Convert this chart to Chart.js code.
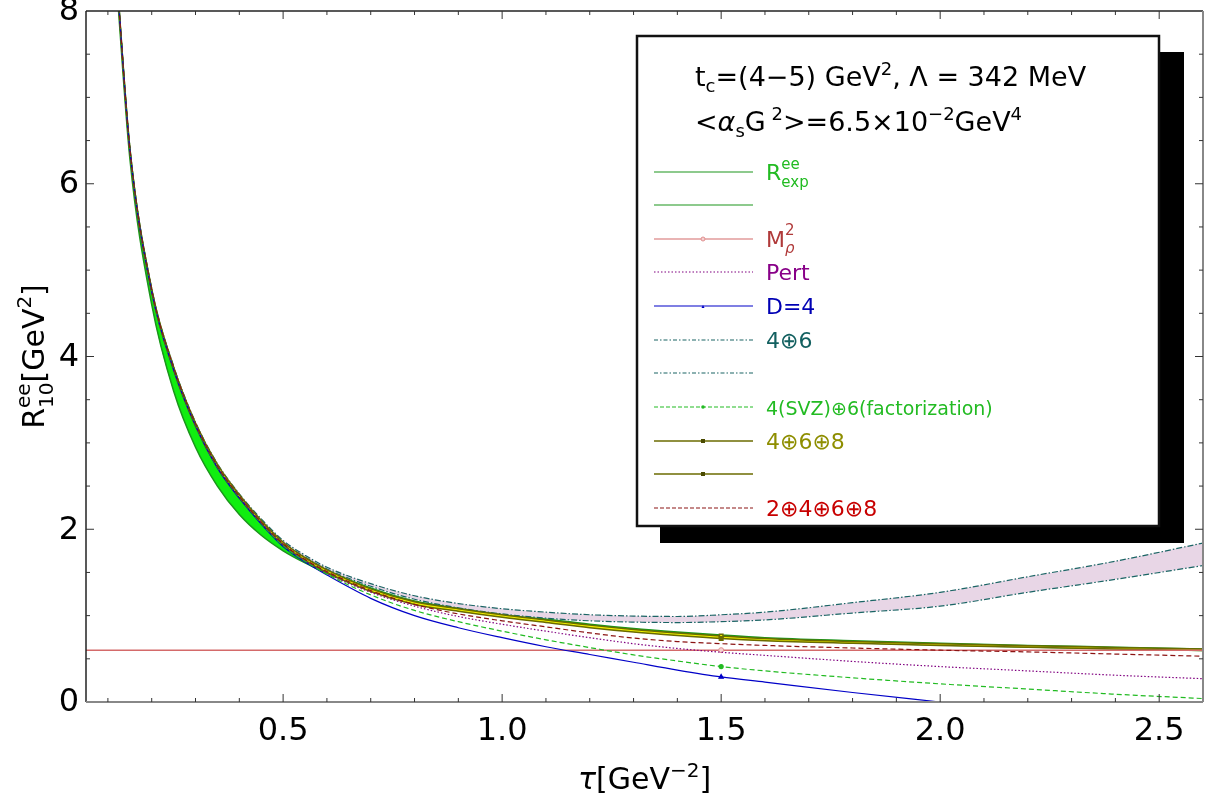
<!DOCTYPE html>
<html lang="en">
<head>
<meta charset="UTF-8" />
<title>R10 ee sum rule</title>
<style>
  body { margin: 0; background: #fff; }
  canvas { display: block; }
</style>
</head>
<body>
<canvas id="sumRule" width="1208" height="799"></canvas>

<script src="https://cdn.jsdelivr.net/npm/chart.js"></script>
<script>
  const tau = [0.12, 0.15, 0.2, 0.25, 0.3, 0.35, 0.4, 0.45, 0.5, 0.55, 0.6, 0.7, 0.8, 0.9,
               1.0, 1.1, 1.2, 1.3, 1.4, 1.5, 1.6, 1.8, 2.0, 2.2, 2.4, 2.6];

  const rexpUpper = [8.40, 6.42, 4.77, 3.87, 3.22, 2.74, 2.39, 2.10, 1.85, 1.67, 1.53, 1.32, 1.17, 1.09,
                     1.02, 0.96, 0.90, 0.85, 0.81, 0.775, 0.745, 0.71, 0.68, 0.655, 0.635, 0.615];
  const rexpLower = [8.30, 6.30, 4.60, 3.60, 2.95, 2.50, 2.17, 1.93, 1.75, 1.61, 1.49, 1.29, 1.14, 1.06,
                     0.99, 0.93, 0.87, 0.82, 0.78, 0.745, 0.72, 0.685, 0.66, 0.637, 0.617, 0.597];
  // M_rho^2 is a flat line across the whole frame
  const rhoTau = [0.05, 1.5, 2.6];
  const mRho2 = [0.6, 0.6, 0.6];
  const pert = [8.40, 6.40, 4.76, 3.86, 3.21, 2.73, 2.38, 2.08, 1.83, 1.64, 1.49, 1.27, 1.11, 0.99,
                0.90, 0.82, 0.745, 0.675, 0.62, 0.576, 0.54, 0.47, 0.41, 0.36, 0.31, 0.27];
  const dim4 = [8.40, 6.40, 4.75, 3.85, 3.20, 2.71, 2.36, 2.06, 1.80, 1.62, 1.47, 1.20, 1.00, 0.86,
                0.745, 0.64, 0.55, 0.46, 0.37, 0.29, 0.23, 0.11, 0.0, null, null, null];
  const d46Upper = [8.43, 6.43, 4.79, 3.89, 3.24, 2.76, 2.41, 2.12, 1.87, 1.70, 1.56, 1.37, 1.23, 1.14,
                    1.08, 1.04, 1.01, 0.995, 0.99, 1.01, 1.04, 1.15, 1.27, 1.45, 1.63, 1.84];
  const d46Lower = [8.41, 6.41, 4.77, 3.87, 3.22, 2.74, 2.39, 2.10, 1.85, 1.68, 1.54, 1.34, 1.19, 1.09,
                    1.02, 0.97, 0.94, 0.925, 0.92, 0.93, 0.95, 1.03, 1.11, 1.27, 1.42, 1.58];
  const svzFact = [8.40, 6.40, 4.76, 3.86, 3.21, 2.72, 2.37, 2.07, 1.81, 1.63, 1.48, 1.24, 1.06, 0.93,
                   0.82, 0.72, 0.63, 0.545, 0.475, 0.41, 0.36, 0.28, 0.21, 0.15, 0.09, 0.04];
  const d468Upper = [8.42, 6.42, 4.78, 3.88, 3.23, 2.75, 2.40, 2.10, 1.85, 1.67, 1.53, 1.31, 1.16, 1.08,
                     1.01, 0.95, 0.89, 0.84, 0.80, 0.765, 0.735, 0.70, 0.675, 0.652, 0.632, 0.612];
  const d468Lower = [8.38, 6.38, 4.74, 3.84, 3.19, 2.71, 2.36, 2.07, 1.82, 1.64, 1.50, 1.28, 1.13, 1.05,
                     0.98, 0.92, 0.86, 0.81, 0.77, 0.735, 0.71, 0.68, 0.655, 0.633, 0.613, 0.595];
  const d2468 = [8.41, 6.41, 4.77, 3.87, 3.22, 2.73, 2.38, 2.08, 1.83, 1.65, 1.51, 1.29, 1.13, 1.02,
                 0.94, 0.87, 0.80, 0.74, 0.70, 0.675, 0.655, 0.625, 0.60, 0.58, 0.555, 0.53];

  const xTickLabels = ['0.5', '1.0', '1.5', '2.0', '2.5'];
  const yTickLabels = ['0', '2', '4', '6', '8'];
  const markerTau = 1.5;

  const FONT = '"DejaVu Sans", sans-serif';
  const pts = (arr, xs = tau) => xs.map((t, i) => ({ x: t, y: arr[i] }));
  const marker = (r, xs = tau) => xs.map(t => (t === markerTau ? r : 0));

  function line(label, arr, color, extra) {
    return Object.assign({
      label,
      data: pts(arr),
      borderColor: color,
      backgroundColor: color,
      borderWidth: 1.2,
      pointRadius: 0,
      fill: false,
      cubicInterpolationMode: 'monotone'
    }, extra || {});
  }

  const datasets = [
    line('Rexp upper', rexpUpper, '#1c951c', { fill: '+1', backgroundColor: '#10ee10', borderWidth: 1.5, order: 20 }),
    line('Rexp lower', rexpLower, '#1c951c', { borderWidth: 1.5, order: 19 }),
    line('4+6 upper', d46Upper, '#1b6565', { fill: '+1', backgroundColor: '#e8d6e6', borderDash: [6, 2, 1.5, 2], order: 18 }),
    line('4+6 lower', d46Lower, '#1b6565', { borderDash: [6, 2, 1.5, 2], order: 17 }),
    line('4+6+8 upper', d468Upper, '#6b6b00', { fill: '+1', backgroundColor: '#f2f200', borderWidth: 1.5,
      pointRadius: marker(2.5), pointStyle: 'rect', order: 16 }),
    line('4+6+8 lower', d468Lower, '#6b6b00', { borderWidth: 1.5, pointRadius: marker(2.5), pointStyle: 'rect', order: 15 }),
    line('M_rho^2', mRho2, '#d46a6a', { data: pts(mRho2, rhoTau), borderWidth: 1.5, pointRadius: marker(2.5, rhoTau),
      pointBackgroundColor: '#f6d0d0', pointBorderColor: '#e09090', pointBorderWidth: 1, order: 6 }),
    line('Pert', pert, '#800080', { borderDash: [1.5, 2], order: 5 }),
    line('D=4', dim4, '#0000c8', { pointRadius: marker(2.5), pointStyle: 'triangle', order: 4 }),
    line('4(SVZ)+6(fact)', svzFact, '#22bb22', { borderDash: [5, 3], pointRadius: marker(2), order: 3 }),
    line('2+4+6+8', d2468, '#8b1414', { borderDash: [5, 3], order: 2 })
  ];

  // draw a run of text pieces: [text, size, dy, italic] or {sup, sub, size, supDy, subDy}
  function rich(ctx, x, y, parts, color) {
    ctx.fillStyle = color;
    ctx.textBaseline = 'alphabetic';
    ctx.textAlign = 'left';
    for (const p of parts) {
      if (Array.isArray(p)) {
        const [txt, size, dy, italic] = p;
        ctx.font = (italic ? 'italic ' : '') + size + 'px ' + FONT;
        ctx.fillText(txt, x, y + (dy || 0));
        x += ctx.measureText(txt).width;
      } else {
        ctx.font = p.size + 'px ' + FONT;
        let w = 0;
        if (p.sup) { ctx.fillText(p.sup, x, y + p.supDy); w = ctx.measureText(p.sup).width; }
        ctx.font = (p.subItalic ? 'italic ' : '') + p.size + 'px ' + FONT;
        if (p.sub) { ctx.fillText(p.sub, x, y + p.subDy); w = Math.max(w, ctx.measureText(p.sub).width); }
        x += w;
      }
    }
    return x;
  }

  function richWidth(ctx, parts) {
    let w = 0;
    for (const p of parts) {
      if (Array.isArray(p)) {
        ctx.font = (p[3] ? 'italic ' : '') + p[1] + 'px ' + FONT;
        w += ctx.measureText(p[0]).width;
      } else {
        ctx.font = p.size + 'px ' + FONT;
        w += Math.max(p.sup ? ctx.measureText(p.sup).width : 0, p.sub ? ctx.measureText(p.sub).width : 0);
      }
    }
    return w;
  }

  const legendRows = [
    { color: '#1c951c', width: 1.2, dash: [], text: [['R', 22, 0], { sup: 'ee', sub: 'exp', size: 15, supDy: -11, subDy: 7 }], textColor: '#22bb22' },
    { color: '#1c951c', width: 1.2, dash: [] },
    { color: '#d46a6a', width: 1.2, dash: [], mark: 'circle', text: [['M', 22, 0], { sup: '2', sub: 'ρ', subItalic: true, size: 15, supDy: -12, subDy: 6 }], textColor: '#b03a3a' },
    { color: '#800080', width: 1.2, dash: [1.5, 2], text: [['Pert', 22, 0]], textColor: '#880088' },
    { color: '#0000c8', width: 1.2, dash: [], mark: 'tri', text: [['D=4', 22, 0]], textColor: '#0000b4' },
    { color: '#1b6565', width: 1.2, dash: [4, 2, 1.5, 2], text: [['4⊕6', 22, 0]], textColor: '#136060' },
    { color: '#1b6565', width: 1.2, dash: [4, 2, 1.5, 2] },
    { color: '#22bb22', width: 1.2, dash: [4, 2], mark: 'dot', text: [['4(SVZ)⊕6(factorization)', 19, 0]], textColor: '#22bb22' },
    { color: '#6b6b00', width: 1.5, dash: [], mark: 'sq', text: [['4⊕6⊕8', 22, 0]], textColor: '#8e8e00' },
    { color: '#6b6b00', width: 1.5, dash: [], mark: 'sq' },
    { color: '#8b1414', width: 1.2, dash: [4, 2], text: [['2⊕4⊕6⊕8', 22, 0]], textColor: '#c80000' }
  ];
  const legendRowY = [172, 205, 239, 272, 306, 340, 373, 407, 441, 474, 508];

  const framePlugin = {
    id: 'frame',
    afterDraw(chart) {
      const ctx = chart.ctx;
      const xs = chart.scales.x, ys = chart.scales.y;
      const a = chart.chartArea;
      ctx.save();

      // frame
      ctx.setLineDash([]);
      ctx.lineWidth = 1.5;
      ctx.strokeStyle = '#222';
      ctx.beginPath(); ctx.moveTo(a.left, a.top); ctx.lineTo(a.right, a.top); ctx.stroke();
      ctx.beginPath(); ctx.moveTo(a.left, a.top); ctx.lineTo(a.left, a.bottom); ctx.stroke();
      ctx.strokeStyle = '#888';
      ctx.lineWidth = 2;
      ctx.beginPath(); ctx.moveTo(a.left, a.bottom); ctx.lineTo(a.right, a.bottom); ctx.stroke();
      ctx.beginPath(); ctx.moveTo(a.right, a.top); ctx.lineTo(a.right, a.bottom); ctx.stroke();

      // inward ticks
      ctx.lineWidth = 1;
      ctx.strokeStyle = '#333';
      for (let k = 1; k <= 26; k++) {
        const px = xs.getPixelForValue(k / 10);
        if (px <= a.left + 1 || px >= a.right) continue;
        const len = k % 5 === 0 ? 8 : 4;
        ctx.beginPath();
        ctx.moveTo(px, a.bottom); ctx.lineTo(px, a.bottom - len);
        ctx.moveTo(px, a.top); ctx.lineTo(px, a.top + len);
        ctx.stroke();
      }
      for (let k = 1; k < 16; k++) {
        const py = ys.getPixelForValue(k / 2);
        const len = k % 4 === 0 ? 8 : 4;
        ctx.beginPath();
        ctx.moveTo(a.left, py); ctx.lineTo(a.left + len, py);
        ctx.moveTo(a.right, py); ctx.lineTo(a.right - len, py);
        ctx.stroke();
      }

      // tick labels
      ctx.fillStyle = '#000';
      ctx.font = '32px ' + FONT;
      ctx.textAlign = 'center';
      ctx.textBaseline = 'alphabetic';
      xTickLabels.forEach(l => ctx.fillText(l, xs.getPixelForValue(parseFloat(l)), a.bottom + 38));
      ctx.textAlign = 'right';
      ctx.textBaseline = 'middle';
      yTickLabels.forEach(l => ctx.fillText(l, a.left - 7, ys.getPixelForValue(parseFloat(l)) + 1));

      // axis titles
      const xTitle = [['τ', 30, 0, true], ['[GeV', 30, 0], ['−2', 20, -12], [']', 30, 0]];
      const xc = (a.left + a.right) / 2;
      rich(ctx, xc - richWidth(ctx, xTitle) / 2, 789, xTitle, '#000');

      const yTitle = [['R', 30, 0], { sup: 'ee', sub: '10', size: 20, supDy: -14, subDy: 9 }, ['[GeV', 30, 0], ['2', 20, -13], [']', 30, 0]];
      ctx.save();
      ctx.translate(44, (a.top + a.bottom) / 2);
      ctx.rotate(-Math.PI / 2);
      rich(ctx, -richWidth(ctx, yTitle) / 2, 0, yTitle, '#000');
      ctx.restore();

      // legend box with shadow
      ctx.fillStyle = '#000';
      ctx.fillRect(660, 52, 524, 491);
      ctx.fillStyle = '#fff';
      ctx.fillRect(637, 36, 522, 490);
      ctx.lineWidth = 2.5;
      ctx.strokeStyle = '#111';
      ctx.strokeRect(637, 36, 522, 490);

      rich(ctx, 695, 86, [['t', 27, 0], ['c', 18, 6], ['=(4−5) GeV', 27, 0], ['2', 18, -11],
        [', ', 27, 0], ['Λ', 27, 0], [' = 342 MeV', 27, 0]], '#000');
      rich(ctx, 695, 131, [['<', 27, 0], ['α', 27, 0, true], ['s', 18, 6], ['G', 27, 0], [' 2', 18, -11],
        ['>=6.5×10', 27, 0], ['−2', 18, -11], ['GeV', 27, 0], ['4', 18, -11]], '#000');

      legendRows.forEach((row, i) => {
        const y = legendRowY[i];
        ctx.setLineDash(row.dash);
        ctx.strokeStyle = row.color;
        ctx.lineWidth = row.width;
        ctx.beginPath(); ctx.moveTo(654, y); ctx.lineTo(753, y); ctx.stroke();
        ctx.setLineDash([]);
        const mx = 703;
        if (row.mark === 'circle') {
          ctx.fillStyle = '#f6d0d0'; ctx.strokeStyle = '#e09090'; ctx.lineWidth = 1;
          ctx.beginPath(); ctx.arc(mx, y, 2, 0, Math.PI * 2); ctx.fill(); ctx.stroke();
        } else if (row.mark === 'tri') {
          ctx.fillStyle = row.color;
          ctx.beginPath(); ctx.moveTo(mx, y - 1); ctx.lineTo(mx - 1.5, y + 2); ctx.lineTo(mx + 1.5, y + 2); ctx.closePath(); ctx.fill();
        } else if (row.mark === 'dot') {
          ctx.fillStyle = row.color;
          ctx.beginPath(); ctx.arc(mx, y, 1.8, 0, Math.PI * 2); ctx.fill();
        } else if (row.mark === 'sq') {
          ctx.fillStyle = '#4a4a00';
          ctx.fillRect(mx - 2, y - 2, 4, 4);
        }
        if (row.text) rich(ctx, 766, y + 8, row.text, row.textColor);
      });

      ctx.restore();
    }
  };

  const ctx = document.getElementById('sumRule').getContext('2d');
  new Chart(ctx, {
    type: 'line',
    data: { datasets },
    options: {
      responsive: false,
      animation: false,
      devicePixelRatio: 1,
      layout: { padding: { top: 11, right: 5, left: 0, bottom: 0 } },
      plugins: {
        legend: { display: false },
        tooltip: { enabled: false },
        filler: { propagate: false }
      },
      scales: {
        x: {
          type: 'linear', min: 0.05, max: 2.6,
          ticks: { display: false },
          grid: { display: false },
          border: { display: false },
          afterFit: s => { s.height = 97; }
        },
        y: {
          min: 0, max: 8,
          ticks: { display: false },
          grid: { display: false },
          border: { display: false },
          afterFit: s => { s.width = 86; }
        }
      }
    },
    plugins: [framePlugin]
  });
</script>
</body>
</html>
